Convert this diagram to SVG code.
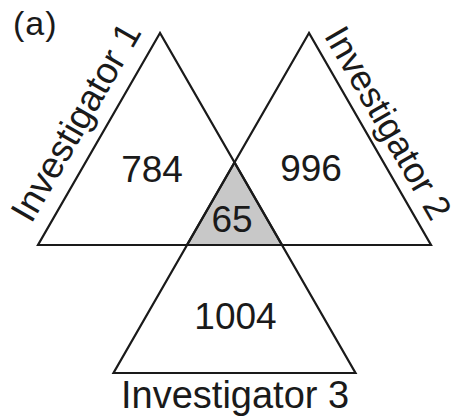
<svg xmlns="http://www.w3.org/2000/svg" width="460" height="419" viewBox="0 0 460 419">
<style>
.tri{fill:none;stroke:#1a1a1a;stroke-width:2.2;stroke-linejoin:miter}
.shade{fill:#c8c8c8;stroke:none}
text{font-family:"Liberation Sans",Arial,sans-serif;fill:#1a1a1a}
.num{font-size:37px;text-anchor:middle}
.lab{font-size:37px}
</style>
<rect width="460" height="419" fill="#ffffff"/>
<text x="13" y="35" style="font-size:34px;letter-spacing:1px">(a)</text>
<g id="overlap">
<polygon class="shade" points="234.5,162.5 187,245 282,245"/>
<text class="num" x="232" y="232">65</text>
</g>
<g id="investigator1">
<polygon class="tri" points="160,33 38,245 282,245"/>
<text class="lab" transform="translate(31.3,224.5) rotate(-60)">Investigator 1</text>
<text class="num" x="152" y="182">784</text>
</g>
<g id="investigator2">
<polygon class="tri" points="309,33 187,245 431,245"/>
<text class="lab" style="font-size:36px" transform="translate(323.5,35.5) rotate(60)">Investigator 2</text>
<text class="num" x="311" y="181">996</text>
</g>
<g id="investigator3">
<polygon class="tri" points="234.5,162.5 113.5,373 355.5,373"/>
<text class="lab" style="font-size:38px" x="121" y="408">Investigator 3</text>
<text class="num" x="235.5" y="329">1004</text>
</g>
</svg>
